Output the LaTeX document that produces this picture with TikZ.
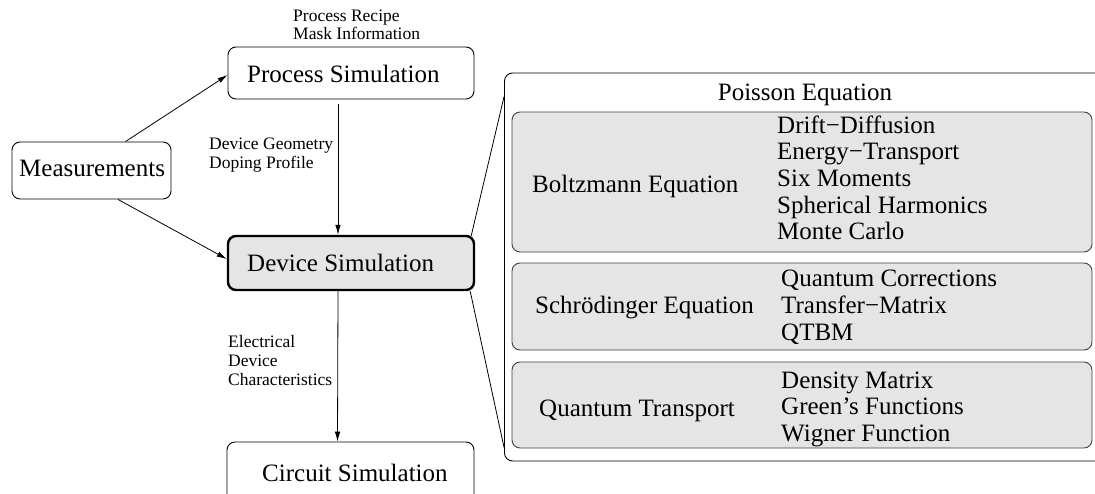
\documentclass[tikz,border=0pt]{standalone}
\usepackage{fontspec}
\setmainfont{Liberation Serif}
\usetikzlibrary{arrows.meta}
\begin{document}
\begin{tikzpicture}[x=1pt,y=-1pt,
  boxw/.style={draw, line width=0.9pt, rounded corners=8pt, inner sep=0pt, fill=white},
  boxg/.style={draw=black!75, line width=0.9pt, rounded corners=8pt, inner sep=0pt, fill=black!10},
  boxd/.style={draw, line width=2.4pt, rounded corners=8pt, inner sep=0pt, fill=black!10},
  big/.style={font=\fontsize{25}{30}\selectfont, inner sep=0pt, anchor=base west},
  bigc/.style={font=\fontsize{25}{30}\selectfont, inner sep=0pt, anchor=base},
  lbl/.style={font=\fontsize{17.5}{19}\selectfont, inner sep=0pt, anchor=base west},
  arr/.style={-{Latex[length=10pt,width=5.5pt]}, line width=0.8pt},
  con/.style={line width=0.8pt}]
\useasboundingbox (0,0) rectangle (1095,493);
\clip (0,0) rectangle (1095,493);

% right panel
\node[boxw, minimum width=616pt, minimum height=388pt] (outer) at (812.5,267) {};
\node[boxg, minimum width=580pt, minimum height=140pt] (boltz) at (802,182) {};
\node[boxg, minimum width=580pt, minimum height=87pt] (schr) at (802,306.5) {};
\node[boxg, minimum width=580pt, minimum height=86pt] (qt) at (802,405) {};

\node[bigc] (poisson) at (805,100) {Poisson Equation};
\node[big] (boltzt) at (532,192) {Boltzmann Equation};
\foreach \t [count=\i] in {Drift−Diffusion, Energy−Transport, Six Moments, Spherical Harmonics, Monte Carlo}
  \node[big] (bl\i) at (777,{133+26.7*(\i-1)}) {\t};
\node[big] (schrt) at (535,313) {Schrödinger Equation};
\foreach \t [count=\i] in {Quantum Corrections, Transfer−Matrix, QTBM}
  \node[big] (sl\i) at (781,{286+27*(\i-1)}) {\t};
\node[big] (qtt) at (539,416) {Quantum Transport};
\foreach \t [count=\i] in {Density Matrix, Green’s Functions, Wigner Function}
  \node[big] (ql\i) at (781,{388+26.5*(\i-1)}) {\t};

% left flow
\node[boxw, minimum width=246pt, minimum height=52pt] (proc) at (351,73) {};
\node[boxw, minimum width=159pt, minimum height=57pt] (meas) at (91.5,170.5) {};
\node[boxd, minimum width=246pt, minimum height=54pt] (dev) at (351,263) {};
\node[boxw, minimum width=247pt, minimum height=62pt] (circ) at (350.5,473) {};

\node[big] (proct) at (247,82) {Process Simulation};
\node[big] (meast) at (19,176) {Measurements};
\node[big] (devt) at (247,271) {Device Simulation};
\node[big] (circt) at (262,481) {Circuit Simulation};

\node[lbl] (l1) at (293,21) {Process Recipe};
\node[lbl] (l2) at (293,39.5) {Mask Information};
\node[lbl] (l3) at (209,149) {Device Geometry};
\node[lbl] (l4) at (209,168) {Doping Profile};
\node[lbl] (l5) at (228,347) {Electrical};
\node[lbl] (l6) at (228,366) {Device};
\node[lbl] (l7) at (228,385) {Characteristics};

% connectors
\draw[arr] ([xshift=34pt]meas.north) -- ([yshift=-2pt]proc.west);
\draw[arr] ([xshift=26.5pt]meas.south) -- ([yshift=4pt]dev.west);
\draw[arr] ([xshift=-13pt,yshift=-5pt]proc.south) -- ([xshift=-13pt]dev.north);
\draw[arr] ([xshift=-13pt]dev.south) -- ([xshift=-13pt]circ.north);
\draw[con] ([xshift=-4pt,yshift=-1pt]dev.north east) -- ([yshift=-24pt]outer.north west);
\draw[con] ([xshift=-5pt]dev.south east) -- ([yshift=14pt]outer.south west);
\end{tikzpicture}
\end{document}
